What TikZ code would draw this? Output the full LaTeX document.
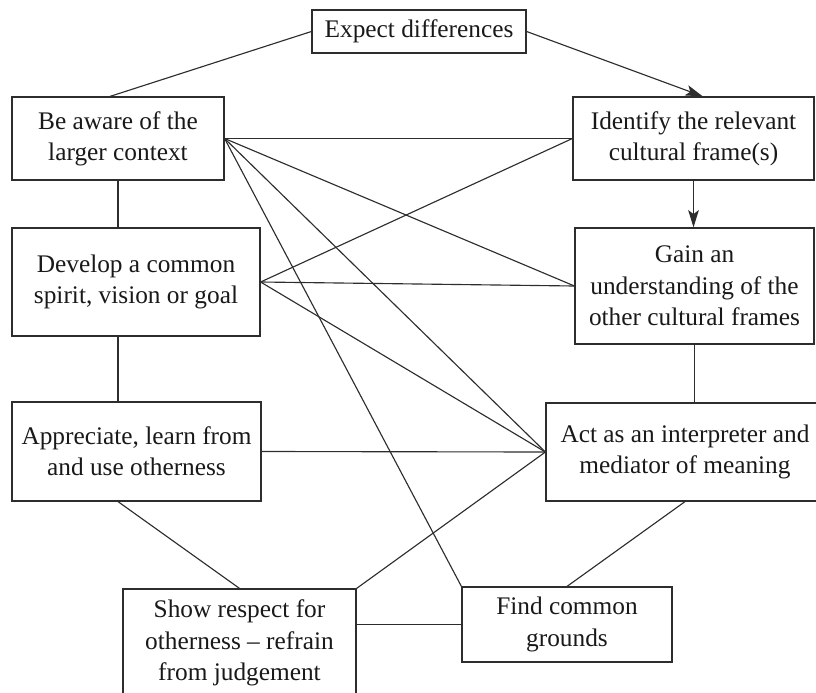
\documentclass[tikz,border=0pt]{standalone}
\usepackage{fontspec}
\setmainfont{Liberation Serif}
\usetikzlibrary{arrows.meta}
\begin{document}
\begin{tikzpicture}[x=0.75pt,y=0.75pt,yscale=-1,xscale=1,
  box/.style={draw={rgb, 255:red, 45; green, 45; blue, 45}, line width=0.9pt, align=center, inner sep=0pt,
    text={rgb, 255:red, 25; green, 25; blue, 25}, font=\fontsize{19}{23.5}\selectfont},
  boxsize/.style 2 args={minimum width=#1*0.75pt, minimum height=#2*0.75pt},
  link/.style={draw={rgb, 255:red, 45; green, 45; blue, 45}, line width=0.85pt},
  tip/.style={-{Stealth[length=13pt,width=8pt,inset=3pt]}}]
%uncomment if require: \path (0,692); %set diagram left start at 0, and has height of 692
\useasboundingbox (0,0) rectangle (816,692);

% Text Node
\node [box, boxsize={214}{43}] (expect) at (419,31.5) {Expect differences};
% Text Node
\node [box, boxsize={212}{83}] (aware) at (118,138.5) {Be aware of the\\larger context};
% Text Node
\node [box, boxsize={248}{108}] (develop) at (136,282) {Develop a common\\spirit, vision or goal};
% Text Node
\node [box, boxsize={249}{99}] (appreciate) at (136.5,451.5) {Appreciate, learn from\\and use otherness};
% Text Node
\node [box, boxsize={233}{108}] (show) at (239.5,643) {Show respect for\\otherness -- refrain\\from judgement};
% Text Node
\node [box, boxsize={241}{83}] (identify) at (693.5,138.5) {Identify the relevant\\cultural frame(s)};
% Text Node
\node [box, boxsize={239}{116}] (gain) at (694.5,286) {Gain an\\understanding of the\\other cultural frames};
% Text Node
\node [box, boxsize={278}{98}] (act) at (685,452) {Act as an interpreter and\\mediator of meaning};
% Text Node
\node [box, boxsize={210}{75}] (find) at (567,624.5) {Find common\\grounds};

%Straight Lines
\draw [link] (expect.west) -- ([xshift=-6pt]aware.north);
\draw [link, tip] (expect.east) -- ([xshift=7pt]identify.north);
\draw [link, tip] (identify.south) -- (identify.south |- gain.north);

%Straight Lines
\draw [link] (aware.south) -- (aware.south |- develop.north);
\draw [link] (aware.south |- develop.south) -- (aware.south |- appreciate.north);
\draw [link] (aware.south |- appreciate.south) -- (show.north);
\draw [link] (gain.south) -- (gain.south |- act.north);
\draw [link] (act.south) -- (find.north);
\draw [link] (find.west -| show.east) -- (find.west);
\draw [link] (appreciate.east) -- (act.west);

%Straight Lines
\draw [link] (aware.east) -- (identify.west);
\draw [link] (aware.east) -- (gain.west);
\draw [link] (aware.east) -- (act.west);
\draw [link] (aware.east) -- (find.north west);
\draw [link] (develop.east) -- (identify.west);
\draw [link] (develop.east) -- (gain.west);
\draw [link] (develop.east) -- (act.west);
\draw [link] (show.north east) -- (act.west);

\end{tikzpicture}
\end{document}
